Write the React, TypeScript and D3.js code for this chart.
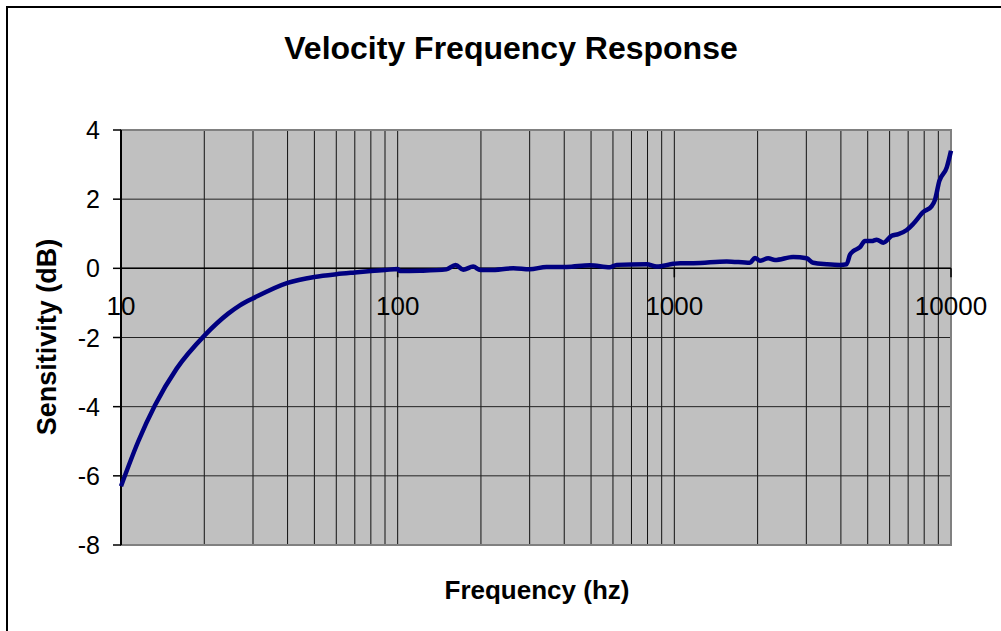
import React, { useEffect, useRef } from 'react';
import * as d3 from 'd3';

// frequency (hz) and sensitivity (dB)
const freqs = [
  10, 11.55, 13.27, 15.89, 20.1, 24.4, 26.9, 30.5, 40, 50, 60, 70, 80, 90, 100, 102, 120, 150,
  162, 172.6, 187.5, 199, 216, 262, 300, 345, 408, 495, 585, 619, 794, 863, 991, 1050, 1172,
  1546, 1875, 1957, 2039, 2185, 2311, 2690, 3006, 3178, 3554, 3966, 4195, 4316, 4439, 4688,
  4888, 5168, 5386, 5693, 6105, 6450, 6920, 7310, 7946, 8516, 8752, 9070, 9654, 10000,
];
const sensitivity = [
  -6.3, -5.0, -3.96, -2.9, -1.93, -1.31, -1.07, -0.84, -0.42, -0.25, -0.17, -0.12, -0.08, -0.05,
  -0.02, -0.08, -0.07, -0.03, 0.1, -0.04, 0.05, -0.05, -0.05, 0, -0.03, 0.04, 0.04, 0.09, 0.03,
  0.1, 0.12, 0.05, 0.13, 0.15, 0.15, 0.2, 0.16, 0.3, 0.22, 0.29, 0.24, 0.33, 0.29, 0.16, 0.12,
  0.1, 0.12, 0.4, 0.5, 0.61, 0.79, 0.79, 0.83, 0.74, 0.94, 0.99, 1.11, 1.29, 1.63, 1.8, 1.98,
  2.52, 2.92, 3.4,
];
const xTicks = [10, 100, 1000, 10000];
const yTicks = [-8, -6, -4, -2, 0, 2, 4];

const W = 1001;
const H = 631;
const FONT = '"Liberation Sans", Arial, sans-serif';

export default function App() {
  const svgRef = useRef<SVGSVGElement | null>(null);

  useEffect(() => {
    if (!svgRef.current) return;
    const svg = d3.select(svgRef.current);
    svg.selectAll('*').remove();

    const margin = { top: 130, right: 50, bottom: 86, left: 121 };
    const x = d3.scaleLog().domain([10, 10000]).range([margin.left, W - margin.right]);
    const y = d3.scaleLinear().domain([-8, 4]).range([H - margin.bottom, margin.top]);

    // outer frame
    svg.append('rect')
      .attr('x', 7).attr('y', 7).attr('width', W).attr('height', H)
      .attr('fill', 'white').attr('stroke', 'black').attr('stroke-width', 2);

    // plot area
    svg.append('rect')
      .attr('x', x(10)).attr('y', y(4))
      .attr('width', x(10000) - x(10)).attr('height', y(-8) - y(4))
      .attr('fill', '#c0c0c0');

    // vertical grid (log minors)
    const vGrid = x.ticks().filter(d => d > 10 && d < 10000);
    svg.append('g').selectAll('line')
      .data(vGrid)
      .join('line')
      .attr('x1', d => x(d)).attr('x2', d => x(d))
      .attr('y1', y(4)).attr('y2', y(-8))
      .attr('stroke', '#111').attr('stroke-width', 1);

    // horizontal grid
    svg.append('g').selectAll('line')
      .data(yTicks.filter(d => d > -8 && d < 4))
      .join('line')
      .attr('x1', x(10)).attr('x2', x(10000))
      .attr('y1', d => y(d)).attr('y2', d => y(d))
      .attr('stroke', '#222').attr('stroke-width', 1);

    // plot border (gray)
    svg.append('rect')
      .attr('x', x(10)).attr('y', y(4))
      .attr('width', x(10000) - x(10)).attr('height', y(-8) - y(4))
      .attr('fill', 'none').attr('stroke', '#808080').attr('stroke-width', 2);

    // y axis
    svg.append('line')
      .attr('x1', x(10)).attr('x2', x(10))
      .attr('y1', y(4)).attr('y2', y(-8))
      .attr('stroke', 'black').attr('stroke-width', 2);
    svg.append('g').selectAll('line')
      .data(yTicks)
      .join('line')
      .attr('x1', x(10) - 8).attr('x2', x(10))
      .attr('y1', d => y(d)).attr('y2', d => y(d))
      .attr('stroke', 'black').attr('stroke-width', 1.5);
    svg.append('g').selectAll('text')
      .data(yTicks)
      .join('text')
      .attr('x', x(10) - 21).attr('y', d => y(d) + 9)
      .attr('text-anchor', 'end')
      .attr('font-family', FONT).attr('font-size', 25)
      .text(d => d);

    // x axis at 0
    svg.append('line')
      .attr('x1', x(10)).attr('x2', x(10000))
      .attr('y1', y(0)).attr('y2', y(0))
      .attr('stroke', 'black').attr('stroke-width', 1.5);
    svg.append('g').selectAll('line')
      .data(xTicks)
      .join('line')
      .attr('x1', d => x(d)).attr('x2', d => x(d))
      .attr('y1', y(0)).attr('y2', y(0) + 9)
      .attr('stroke', 'black').attr('stroke-width', 1.5);
    svg.append('g').selectAll('text')
      .data(xTicks)
      .join('text')
      .attr('x', d => x(d)).attr('y', y(0) + 47)
      .attr('text-anchor', 'middle')
      .attr('font-family', FONT).attr('font-size', 26)
      .text(d => String(d));

    // response curve
    const pts = freqs.map((f, i) => [f, sensitivity[i]] as [number, number]);
    const line = d3.line<[number, number]>()
      .x(d => x(d[0]))
      .y(d => y(d[1]))
      .curve(d3.curveMonotoneX);
    svg.append('path')
      .datum(pts)
      .attr('d', line)
      .attr('fill', 'none')
      .attr('stroke', '#000080')
      .attr('stroke-width', 4.5)
      .attr('stroke-linejoin', 'round');

    // titles
    svg.append('text')
      .attr('x', 511).attr('y', 59)
      .attr('text-anchor', 'middle')
      .attr('font-family', FONT).attr('font-size', 32).attr('font-weight', 'bold')
      .text('Velocity Frequency Response');
    svg.append('text')
      .attr('x', 537).attr('y', 599)
      .attr('text-anchor', 'middle')
      .attr('font-family', FONT).attr('font-size', 26).attr('font-weight', 'bold')
      .text('Frequency (hz)');
    svg.append('text')
      .attr('transform', 'translate(56,337) rotate(-90)')
      .attr('text-anchor', 'middle')
      .attr('font-family', FONT).attr('font-size', 27).attr('font-weight', 'bold')
      .text('Sensitivity (dB)');
  }, []);

  return (
    <svg
      ref={svgRef}
      width={W}
      height={H}
      style={{ position: 'absolute', left: 0, top: 0, display: 'block' }}
    />
  );
}
